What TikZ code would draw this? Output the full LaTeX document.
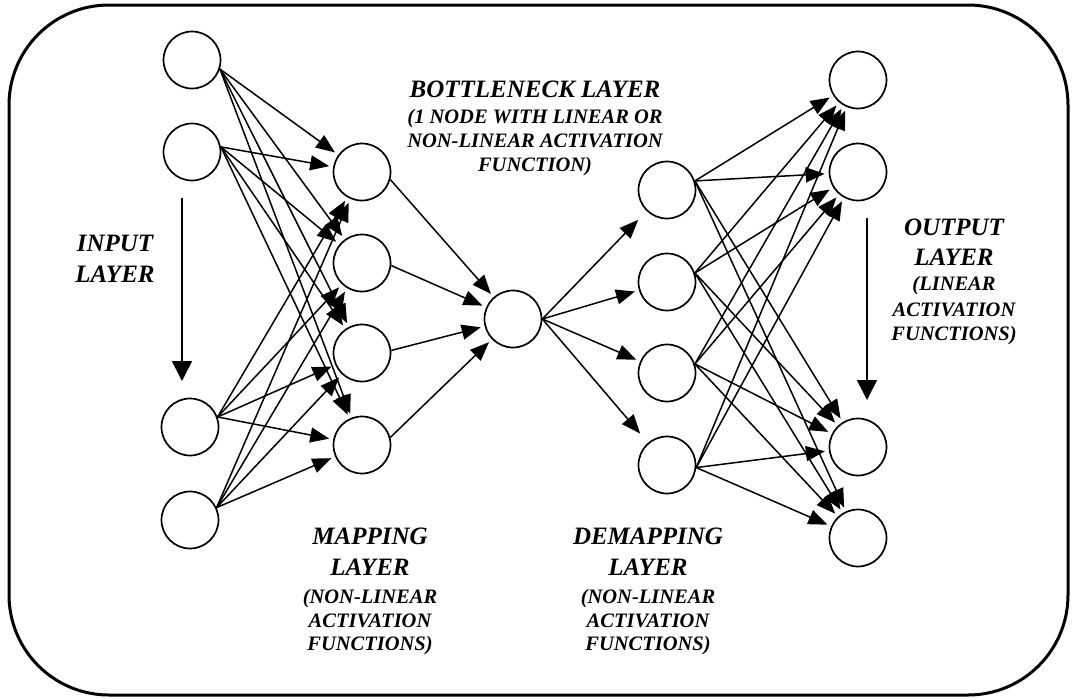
\documentclass[tikz,border=0pt]{standalone}
\usepackage{fontspec}
\setmainfont{Liberation Serif}
\usetikzlibrary{arrows.meta}
\begin{document}
\begin{tikzpicture}[x=1pt,y=-1pt,
 neuron/.style={circle,draw,line width=1.7pt,minimum size=57pt,inner sep=0pt},
 conn/.style={line width=1.5pt,-{Triangle[length=19pt,width=15pt]},shorten >=4pt},
 layerarrow/.style={line width=1.6pt,-{Triangle[length=20pt,width=20pt]}},
 hd/.style={font=\fontsize{25}{30}\selectfont\bfseries\itshape,anchor=base,inner sep=0pt},
 sb/.style={font=\fontsize{20.5}{24}\selectfont\bfseries\itshape,anchor=base,inner sep=0pt}]
\useasboundingbox (0,0) rectangle (1074,699);
\draw[line width=3pt,rounded corners=100pt] (9,5) rectangle (1068,695);

% input layer
\node[neuron] (i1) at (192,60) {};
\node[neuron] (i2) at (192,152) {};
\node[neuron] (i3) at (190,427) {};
\node[neuron] (i4) at (190,520) {};
% mapping layer
\node[neuron] (m1) at (362,172) {};
\node[neuron] (m2) at (362,263) {};
\node[neuron] (m3) at (362,353) {};
\node[neuron] (m4) at (362,445) {};
% bottleneck
\node[neuron] (b) at (513,319) {};
% demapping layer
\node[neuron] (d1) at (667,190) {};
\node[neuron] (d2) at (667,282) {};
\node[neuron] (d3) at (667,373) {};
\node[neuron] (d4) at (667,465) {};
% output layer
\node[neuron] (o1) at (858,80) {};
\node[neuron] (o2) at (858,172) {};
\node[neuron] (o3) at (858,447) {};
\node[neuron] (o4) at (858,538) {};

% input -> mapping
\foreach \s/\a in {i1/-18,i2/10,i3/20,i4/25}
  \foreach \t in {m1,m2,m3,m4}
    \draw[conn] (\s.\a) -- (\t);
% mapping -> bottleneck
\foreach \s/\a in {m1/-15,m2/-5,m3/5,m4/15}
  \draw[conn] (\s.\a) -- (b);
% bottleneck -> demapping
\draw[conn,shorten >=12pt] (b.east) -- (d1);
\draw[conn] (b.east) -- (d2);
\draw[conn] (b.east) -- (d3);
\draw[conn,shorten >=12pt] (b.east) -- (d4);
% demapping -> output
\foreach \s/\a in {d1/18,d2/18,d3/18,d4/-5}
  \foreach \t in {o1,o2,o3,o4}
    \draw[conn] (\s.\a) -- (\t);

% layer direction arrows
\coordinate (ia1) at (182,198);
\coordinate (ia2) at (182,381);
\draw[layerarrow] (ia1) -- (ia2);
\coordinate (oa1) at (867,218);
\coordinate (oa2) at (867,400);
\draw[layerarrow] (oa1) -- (oa2);

% labels
\node[hd] (lin1) at (115,251) {INPUT};
\node[hd] (lin2) at (115,282) {LAYER};

\node[hd] (lbn1) at (535,97) {BOTTLENECK LAYER};
\node[sb] (lbn2) at (535,123) {(1 NODE WITH LINEAR OR};
\node[sb] (lbn3) at (535,147) {NON-LINEAR ACTIVATION};
\node[sb] (lbn4) at (535,171) {FUNCTION)};

\node[hd] (lmp1) at (370,544) {MAPPING};
\node[hd] (lmp2) at (370,575) {LAYER};
\node[sb] (lmp3) at (370,603) {(NON-LINEAR};
\node[sb] (lmp4) at (370,627) {ACTIVATION};
\node[sb] (lmp5) at (370,650) {FUNCTIONS)};

\node[hd] (ldm1) at (648,544) {DEMAPPING};
\node[hd] (ldm2) at (648,575) {LAYER};
\node[sb] (ldm3) at (648,603) {(NON-LINEAR};
\node[sb] (ldm4) at (648,627) {ACTIVATION};
\node[sb] (ldm5) at (648,650) {FUNCTIONS)};

\node[hd] (lo1) at (954,235) {OUTPUT};
\node[hd] (lo2) at (954,265) {LAYER};
\node[sb] (lo3) at (954,290) {(LINEAR};
\node[sb] (lo4) at (954,316) {ACTIVATION};
\node[sb] (lo5) at (954,340) {FUNCTIONS)};
\end{tikzpicture}
\end{document}
